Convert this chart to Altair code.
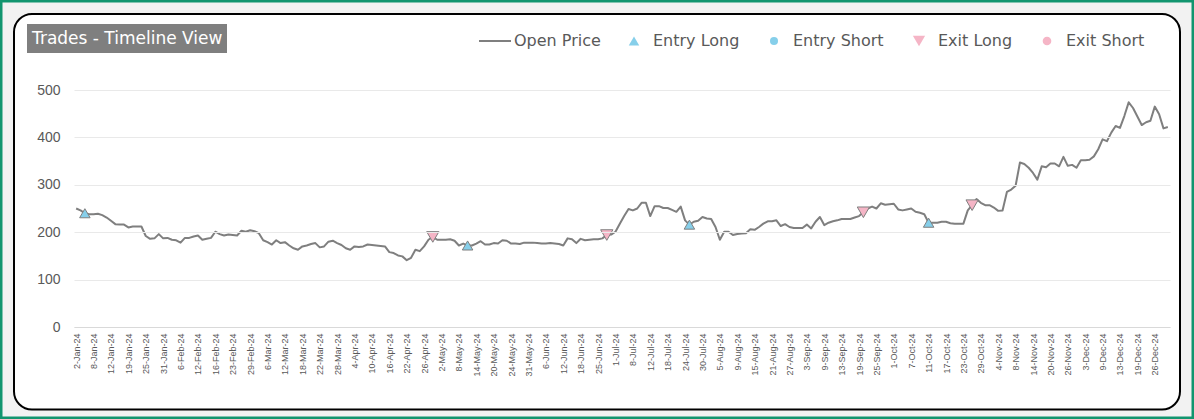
import altair as alt
import pandas as pd

# ---- categories: NYSE trading days of 2024 ----
holidays = ["2024-01-01", "2024-01-15", "2024-02-19", "2024-03-29", "2024-05-27",
            "2024-06-19", "2024-07-04", "2024-09-02", "2024-11-28", "2024-12-25"]
days = [d for d in pd.bdate_range("2024-01-01", "2024-12-31")
        if d.strftime("%Y-%m-%d") not in holidays]
date_labels = [f"{d.day}-{d.strftime('%b-%y')}" for d in days]
tick_labels = date_labels[::4]
y_ticks = [0, 50, 100, 150, 200, 250, 300, 350, 400, 450, 500]

# ---- series values ----
open_price = [
    250, 246, 240, 238, 238, 239, 236, 231, 224, 217,
    216, 216, 210, 212, 212, 212, 192, 186, 187, 196,
    187, 188, 184, 183, 178, 188, 188, 191, 193, 184,
    186, 188, 201, 196, 193, 195, 194, 193, 203, 201,
    204, 202, 198, 183, 179, 174, 183, 177, 179, 172,
    166, 163, 170, 172, 175, 177, 168, 170, 180, 182,
    177, 173, 166, 163, 170, 169, 170, 174, 173, 172,
    171, 170, 158, 156, 151, 149, 141, 146, 163, 160,
    170, 184, 190, 184, 184, 184, 185, 182, 172, 176,
    172, 172, 176, 181, 174, 174, 177, 176, 183, 182,
    176, 176, 175, 178, 178, 178, 177, 176, 176, 177,
    176, 175, 172, 187, 185, 177, 186, 183, 184, 185,
    185, 187, 194, 195, 201, 218, 234, 249, 246, 250,
    262, 262, 234, 255, 255, 251, 251, 247, 243, 254,
    225, 216, 222, 224, 232, 229, 228, 211, 184, 201,
    201, 194, 196, 197, 198, 206, 205, 211, 218, 223,
    223, 225, 213, 217, 211, 209, 209, 209, 216, 208,
    222, 232, 215, 220, 223, 225, 228, 228, 228, 231,
    234, 242, 250, 254, 250, 261, 258, 259, 260, 248,
    246, 248, 250, 243, 241, 238, 220, 220, 220, 222,
    222, 219, 218, 218, 218, 246, 257, 270, 262, 257,
    257, 252, 245, 246, 285, 290, 298, 347, 344, 336,
    325, 311, 339, 337, 345, 345, 339, 359, 340, 342,
    336, 352, 352, 353, 360, 375, 396, 392, 410, 424,
    420, 445, 474, 462, 444, 426, 432, 435, 465, 449,
    419, 422,
]
entry_long_days = [2, 90, 141, 196]
exit_long_days = [82, 122, 181, 206]

line_name = ["Open Price"]
series_names = ["Entry Long", "Entry Short", "Exit Long", "Exit Short"]
series_shapes = ["triangle-up", "circle", "triangle-down", "circle"]
series_fills = ["#86CFEA", "#86CFEA", "#F5B5C6", "#F5B5C6"]
series_sizes = [110, 64, 150, 75]

n = min(len(date_labels), len(open_price))
price_df = pd.DataFrame({"date": date_labels[:n], "price": open_price[:n],
                         "name": line_name * n})
trade_rows = []
for i in entry_long_days:
    trade_rows.append({"date": date_labels[i], "price": open_price[i], "series": "Entry Long"})
for i in exit_long_days:
    trade_rows.append({"date": date_labels[i], "price": open_price[i], "series": "Exit Long"})
trades_df = pd.DataFrame(trade_rows)

GREY_TXT = "#595959"
AXFONT = "Liberation Sans, Arial, sans-serif"
LGFONT = "DejaVu Sans, Verdana, sans-serif"

x_scale = alt.Scale(domain=date_labels[:n], type="point", padding=0.5)
y_scale = alt.Scale(domain=[0, 500], nice=False)

x_axis = alt.Axis(values=tick_labels, labelAngle=-90, labelFont=AXFONT, labelFontSize=9,
                  labelColor=GREY_TXT, ticks=False, domainColor="#d9d9d9", grid=False,
                  title=None, labelPadding=6, labelOverlap=False, zindex=1)
y_axis = alt.Axis(values=y_ticks, labelFont=AXFONT, labelFontSize=14, labelColor=GREY_TXT,
                  ticks=False, domain=False, gridColor="#e9e9e9", gridWidth=1,
                  title=None, labelPadding=14, zindex=1)

one = alt.Data(values=[{}])

outer = alt.Chart(one).mark_rect(fill="#f2f2f2", stroke="#12956F", strokeWidth=5).encode(
    x=alt.value(-74), x2=alt.value(1120), y=alt.value(-90), y2=alt.value(329))
card = alt.Chart(one).mark_rect(fill="white", stroke="black", strokeWidth=2,
                                cornerRadius=18).encode(
    x=alt.value(-60), x2=alt.value(1106), y=alt.value(-76), y2=alt.value(319.5))
title_box = alt.Chart(one).mark_rect(fill="#7f7f7f").encode(
    x=alt.value(-47), x2=alt.value(153), y=alt.value(-66), y2=alt.value(-37))
title_text = alt.Chart(one).mark_text(align="left", baseline="middle", color="white",
                                      font=LGFONT, fontSize=17).encode(
    x=alt.value(-42), y=alt.value(-51), text=alt.value("Trades - Timeline View"))

line_legend = alt.Legend(orient="none", legendX=404, legendY=-66, direction="horizontal",
                         title=None, labelFont=LGFONT, labelFontSize=16, labelColor=GREY_TXT,
                         labelOffset=2, padding=0, symbolType="stroke", symbolSize=1024,
                         symbolStrokeWidth=2)

line = alt.Chart(price_df).mark_line(strokeWidth=2, strokeJoin="round").encode(
    x=alt.X("date:N", scale=x_scale, axis=x_axis),
    y=alt.Y("price:Q", scale=y_scale, axis=y_axis),
    color=alt.Color("name:N", scale=alt.Scale(domain=line_name, range=["#7f7f7f"]),
                    legend=line_legend),
)

legend = alt.Legend(orient="none", legendX=552, legendY=-57, direction="horizontal",
                    title=None, labelFont=LGFONT, labelFontSize=16, labelColor=GREY_TXT,
                    labelOffset=11, columnPadding=26, padding=0, symbolOpacity=1,
                    symbolStrokeWidth=1, symbolStrokeColor="#7f7f7f")

points = alt.Chart(trades_df).mark_point(filled=True, opacity=1, stroke="#7f7f7f",
                                         strokeWidth=1).encode(
    x=alt.X("date:N", scale=x_scale),
    y=alt.Y("price:Q", scale=y_scale),
    shape=alt.Shape("series:N", scale=alt.Scale(domain=series_names, range=series_shapes), legend=legend),
    fill=alt.Fill("series:N", scale=alt.Scale(domain=series_names, range=series_fills), legend=legend),
    size=alt.Size("series:N", scale=alt.Scale(type="ordinal", domain=series_names, range=series_sizes), legend=legend),
)

chart = alt.layer(outer, card, title_box, title_text, line, points).properties(
    width=1096, height=237,
    padding={"left": 74, "top": 90, "right": 24, "bottom": 92},
    autosize=alt.AutoSizeParams(type="none"),
    background="#f2f2f2",
).configure_view(stroke=None)

chart.save("out.html", embed_options={"renderer": "svg", "actions": False})
